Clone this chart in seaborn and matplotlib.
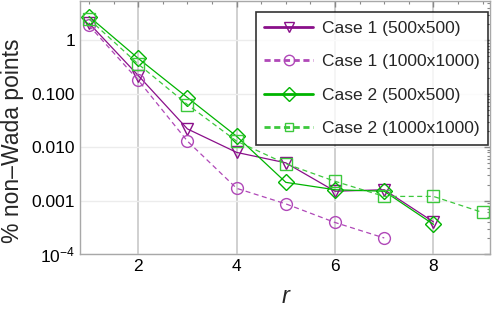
import pandas as pd
import seaborn as sns
import matplotlib.pyplot as plt
import numpy as np
from matplotlib.ticker import FixedLocator, LogLocator, NullFormatter, FixedFormatter

r_vals = [1, 2, 3, 4, 5, 6, 7, 8, 9]

case1_500 = [2.1, 0.22, 0.022, 0.008, 0.0051, 0.0015, 0.0016, 0.0004]
case1_1000 = [1.9, 0.18, 0.013, 0.0017, 0.00087, 0.00039, 0.0002]
case2_500 = [2.8, 0.46, 0.085, 0.016, 0.0022, 0.0016, 0.0015, 0.00036]
case2_1000 = [2.5, 0.36, 0.063, 0.013, 0.0049, 0.0023, 0.0012, 0.0012, 0.0006]

labels = ["Case 1 (500x500)", "Case 1 (1000x1000)",
          "Case 2 (500x500)", "Case 2 (1000x1000)"]

series = [case1_500, case1_1000, case2_500, case2_1000]
rows = []
for lab, vals in zip(labels, series):
    for r, v in zip(r_vals, vals):
        rows.append({"r": r, "pct": v, "case": lab})
df = pd.DataFrame(rows)

sns.set_style("white")
plt.rcParams['font.family'] = ['Liberation Sans', 'DejaVu Sans']

fig = plt.figure(figsize=(4.98, 3.16), dpi=100)
ax = fig.add_axes([0.161, 0.196, 0.823, 0.8])

styles = {
    "Case 1 (500x500)": dict(color="#8a0f8a", dashed=False, marker="v", ms=9, lms=7),
    "Case 1 (1000x1000)": dict(color="#b048b8", dashed=True, marker="o", ms=8.5, lms=7.5),
    "Case 2 (500x500)": dict(color="#00b400", dashed=False, marker="D", ms=8, lms=7.5),
    "Case 2 (1000x1000)": dict(color="#3cc83c", dashed=True, marker="s", ms=8, lms=5.5),
}

for lab in labels:
    st = styles[lab]
    sub = df[df["case"] == lab]
    line_kw = dict(dashes=(4, 2.8)) if st["dashed"] else dict(linestyle="-")
    sns.lineplot(data=sub, x="r", y="pct", ax=ax, color=st["color"],
                 marker=st["marker"], markersize=st["ms"],
                 markerfacecolor="none", markeredgecolor=st["color"],
                 markeredgewidth=1.0, linewidth=0.9, legend=False, **line_kw)

ax.set_yscale("log")
ax.set_ylim(1e-4, 5.4)
ax.set_xlim(0.82, 9.15)

ax.xaxis.set_major_locator(FixedLocator([2, 4, 6, 8]))
ax.xaxis.set_minor_locator(FixedLocator(np.arange(1, 9.5, 0.5)))
ax.yaxis.set_major_locator(FixedLocator([1e-4, 1e-3, 1e-2, 1e-1, 1]))
ax.yaxis.set_major_formatter(FixedFormatter([r"$\mathregular{10^{-4}}$", "0.001", "0.010", "0.100", "1"]))
ax.yaxis.set_minor_locator(LogLocator(base=10, subs=np.arange(2, 10)))
ax.yaxis.set_minor_formatter(NullFormatter())

ax.grid(True, which="major", axis="x", color="#c8c8c8", linewidth=1.2)
ax.grid(True, which="major", axis="y", color="#ececec", linewidth=1.0)
ax.set_axisbelow(True)

for sp in ax.spines.values():
    sp.set_color("#a8a8a8")
    sp.set_linewidth(1.0)

ax.tick_params(which="both", direction="in", top=True, right=True,
               colors="#888888", labelcolor="black", labelsize=12.5)
ax.tick_params(which="major", length=4, width=1)
ax.tick_params(which="minor", length=2.5, width=0.8)

ax.set_xlabel("r", fontsize=17, style="italic", labelpad=8)
ax.set_ylabel("% non\u2013Wada points", fontsize=16.5)
ax.yaxis.set_label_coords(-0.137, 0.447)

handles = []
for lab in labels:
    st = styles[lab]
    h, = ax.plot([], [], color=st["color"], marker=st["marker"],
                 markersize=st["lms"], markerfacecolor="none",
                 markeredgewidth=1.0, linewidth=2.0)
    if st["dashed"]:
        h.set_dashes((2.2, 1.3))
    handles.append(h)
leg = ax.legend(handles, labels, loc="upper right", fontsize=12.5, frameon=True,
                fancybox=False, handlelength=2.8, borderpad=0.5, labelspacing=1.05,
                handletextpad=0.5, borderaxespad=0,
                bbox_to_anchor=(488 / 498, 1 - 12 / 316),
                bbox_transform=fig.transFigure)
leg.get_frame().set_edgecolor("black")
leg.get_frame().set_linewidth(1.2)

fig.savefig("out.png", dpi=100)
